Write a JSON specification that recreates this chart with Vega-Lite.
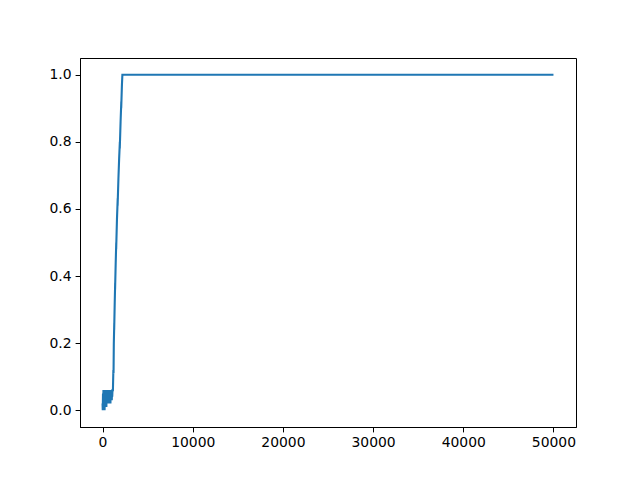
{
  "$schema": "https://vega.github.io/schema/vega-lite/v6.json",
  "width": 496,
  "height": 369,
  "autosize": "none",
  "padding": {"left": 80, "top": 58, "right": 64, "bottom": 53},
  "data": {
    "values": [
      {"i": 0, "step": 0, "value": 0.02},
      {"i": 1, "step": 25, "value": 0.0},
      {"i": 2, "step": 50, "value": 0.05},
      {"i": 3, "step": 75, "value": 0.01},
      {"i": 4, "step": 100, "value": 0.06},
      {"i": 5, "step": 125, "value": 0.0},
      {"i": 6, "step": 150, "value": 0.05},
      {"i": 7, "step": 175, "value": 0.01},
      {"i": 8, "step": 200, "value": 0.06},
      {"i": 9, "step": 225, "value": 0.0},
      {"i": 10, "step": 250, "value": 0.05},
      {"i": 11, "step": 275, "value": 0.02},
      {"i": 12, "step": 300, "value": 0.06},
      {"i": 13, "step": 325, "value": 0.01},
      {"i": 14, "step": 350, "value": 0.06},
      {"i": 15, "step": 375, "value": 0.02},
      {"i": 16, "step": 400, "value": 0.05},
      {"i": 17, "step": 425, "value": 0.01},
      {"i": 18, "step": 450, "value": 0.06},
      {"i": 19, "step": 475, "value": 0.02},
      {"i": 20, "step": 500, "value": 0.06},
      {"i": 21, "step": 525, "value": 0.02},
      {"i": 22, "step": 550, "value": 0.05},
      {"i": 23, "step": 575, "value": 0.02},
      {"i": 24, "step": 600, "value": 0.06},
      {"i": 25, "step": 625, "value": 0.03},
      {"i": 26, "step": 650, "value": 0.06},
      {"i": 27, "step": 675, "value": 0.02},
      {"i": 28, "step": 700, "value": 0.06},
      {"i": 29, "step": 725, "value": 0.03},
      {"i": 30, "step": 750, "value": 0.06},
      {"i": 31, "step": 775, "value": 0.02},
      {"i": 32, "step": 800, "value": 0.05},
      {"i": 33, "step": 825, "value": 0.03},
      {"i": 34, "step": 850, "value": 0.06},
      {"i": 35, "step": 875, "value": 0.02},
      {"i": 36, "step": 900, "value": 0.06},
      {"i": 37, "step": 925, "value": 0.03},
      {"i": 38, "step": 950, "value": 0.06},
      {"i": 39, "step": 975, "value": 0.04},
      {"i": 40, "step": 1000, "value": 0.06},
      {"i": 41, "step": 1025, "value": 0.03},
      {"i": 42, "step": 1050, "value": 0.06},
      {"i": 43, "step": 1075, "value": 0.04},
      {"i": 44, "step": 1100, "value": 0.06},
      {"i": 45, "step": 1150, "value": 0.06},
      {"i": 46, "step": 1200, "value": 0.12},
      {"i": 47, "step": 1220, "value": 0.11},
      {"i": 48, "step": 1250, "value": 0.2},
      {"i": 49, "step": 1300, "value": 0.26},
      {"i": 50, "step": 1290, "value": 0.24},
      {"i": 51, "step": 1350, "value": 0.32},
      {"i": 52, "step": 1400, "value": 0.38},
      {"i": 53, "step": 1390, "value": 0.36},
      {"i": 54, "step": 1460, "value": 0.44},
      {"i": 55, "step": 1520, "value": 0.5},
      {"i": 56, "step": 1510, "value": 0.48},
      {"i": 57, "step": 1600, "value": 0.57},
      {"i": 58, "step": 1680, "value": 0.63},
      {"i": 59, "step": 1670, "value": 0.61},
      {"i": 60, "step": 1760, "value": 0.69},
      {"i": 61, "step": 1840, "value": 0.75},
      {"i": 62, "step": 1920, "value": 0.8},
      {"i": 63, "step": 1910, "value": 0.78},
      {"i": 64, "step": 2000, "value": 0.86},
      {"i": 65, "step": 2080, "value": 0.92},
      {"i": 66, "step": 2070, "value": 0.9},
      {"i": 67, "step": 2150, "value": 0.97},
      {"i": 68, "step": 2200, "value": 1.0},
      {"i": 69, "step": 10000, "value": 1.0},
      {"i": 70, "step": 20000, "value": 1.0},
      {"i": 71, "step": 30000, "value": 1.0},
      {"i": 72, "step": 40000, "value": 1.0},
      {"i": 73, "step": 50000, "value": 1.0}
    ]
  },
  "mark": {"type": "line", "color": "#1f77b4", "strokeWidth": 2.1, "clip": true},
  "encoding": {
    "order": {"field": "i", "type": "quantitative"},
    "x": {
      "field": "step",
      "type": "quantitative",
      "scale": {"domain": [-2500, 52500], "nice": false, "zero": false},
      "axis": {"values": [0, 10000, 20000, 30000, 40000, 50000], "format": "d", "title": null}
    },
    "y": {
      "field": "value",
      "type": "quantitative",
      "scale": {"domain": [-0.05, 1.05], "nice": false, "zero": false},
      "axis": {"values": [0, 0.2, 0.4, 0.6, 0.8, 1.0], "format": ".1f", "title": null}
    }
  },
  "config": {
    "font": "DejaVu Sans",
    "view": {"stroke": "black", "strokeWidth": 1},
    "axis": {
      "grid": false,
      "domainColor": "black",
      "tickColor": "black",
      "tickSize": 4.9,
      "labelPadding": 4,
      "labelFontSize": 13.9,
      "labelColor": "black",
      "labelFont": "DejaVu Sans"
    }
  }
}
